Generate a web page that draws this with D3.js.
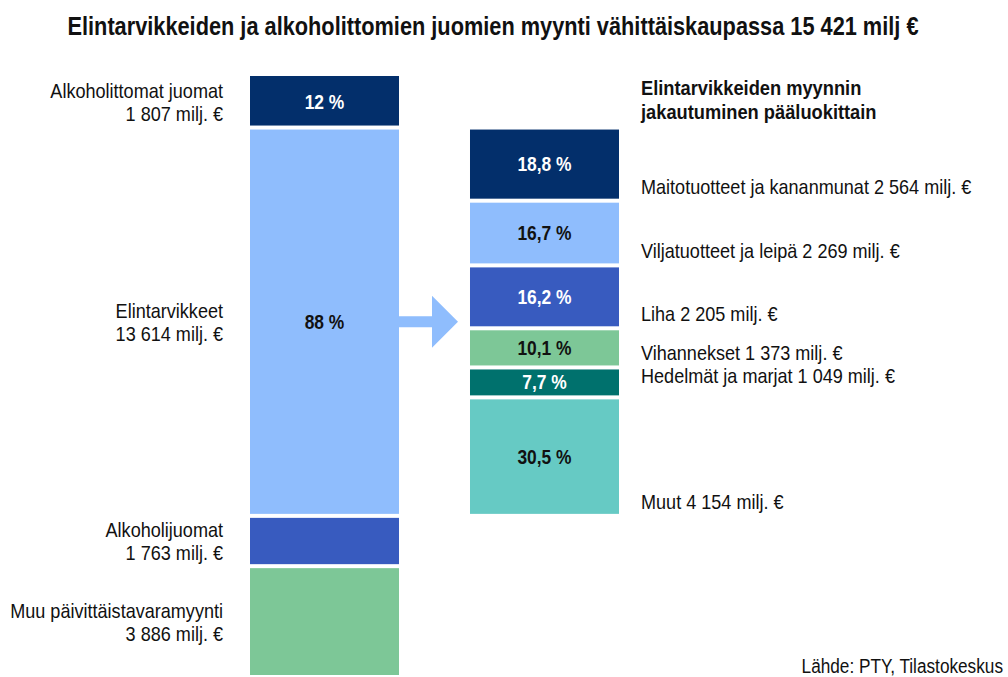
<!DOCTYPE html>
<html lang="fi">
<head>
  <meta charset="utf-8">
  <title>Elintarvikkeiden ja alkoholittomien juomien myynti</title>
  <script src="https://d3js.org/d3.v7.min.js"></script>
  <style>
    body { margin: 0; background: #fff; }
    svg text { font-family: "Liberation Sans", Arial, sans-serif; fill: #111; }
    .bold { font-weight: bold; }
  </style>
</head>
<body>
  <div id="chart"></div>

  <script>
    // data
    const mainCategories = ["Alkoholittomat juomat", "Elintarvikkeet", "Alkoholijuomat", "Muu päivittäistavaramyynti"];
    const mainValues = [1807, 13614, 1763, 3886];
    const mainShares = ["12 %", "88 %", "", ""];

    const foodCategories = ["Maitotuotteet ja kananmunat", "Viljatuotteet ja leipä", "Liha", "Vihannekset", "Hedelmät ja marjat", "Muut"];
    const foodValues = [2564, 2269, 2205, 1373, 1049, 4154];
    const foodShares = ["18,8 %", "16,7 %", "16,2 %", "10,1 %", "7,7 %", "30,5 %"];

    const mainColors = ["#032f6b", "#8fbdfd", "#385bbf", "#7dc797"];
    const foodColors = ["#032f6b", "#8fbdfd", "#385bbf", "#7dc797", "#00716d", "#66cac4"];
    const darkFills = ["#032f6b", "#385bbf", "#00716d"];

    const fi = d3.formatLocale({decimal: ",", thousands: " ", grouping: [3], currency: ["", " €"]});
    const fmt = fi.format(",d");

    const width = 1008, height = 677;
    const gap = 4;

    const svg = d3.select("#chart").append("svg")
      .attr("width", width)
      .attr("height", height);

    // title
    svg.append("text")
      .attr("class", "bold")
      .attr("x", 493)
      .attr("y", 35)
      .attr("text-anchor", "middle")
      .style("font-size", "25px")
      .text("Elintarvikkeiden ja alkoholittomien juomien myynti vähittäiskaupassa " + fmt(d3.sum(mainValues.slice(0, 2))) + " milj €");

    // scales
    const total = d3.sum(mainValues);
    const y = d3.scaleLinear().domain([0, total]).range([76, 677]);
    const x = d3.scaleBand().domain(["main", "food"]).range([250, 619]).paddingInner(0.3227).paddingOuter(0);
    const bw = x.bandwidth();

    // stacked starts
    let acc = 0;
    const mainData = mainValues.map((v, i) => {
      const d = {name: mainCategories[i], value: v, share: mainShares[i], color: mainColors[i], y0: acc, y1: acc + v};
      acc += v;
      return d;
    });
    acc = mainData[1].y0; // food breakdown lies on the Elintarvikkeet segment
    const foodData = foodValues.map((v, i) => {
      const d = {name: foodCategories[i], value: v, share: foodShares[i], color: foodColors[i], y0: acc, y1: acc + v};
      acc += v;
      return d;
    });

    // main bar
    const mainG = svg.append("g");
    mainG.selectAll("rect")
      .data(mainData)
      .enter()
      .append("rect")
      .attr("x", x("main"))
      .attr("width", bw)
      .attr("y", d => y(d.y0) + (d.y0 > 0 ? gap / 2 : 0))
      .attr("height", d => y(d.y1) - y(d.y0) - (d.y0 > 0 ? gap : gap / 2))
      .style("fill", d => d.color);

    mainG.selectAll(".share")
      .data(mainData.filter(d => d.share))
      .enter()
      .append("text")
      .attr("class", "bold")
      .attr("x", x("main") + bw / 2)
      .attr("y", d => (y(d.y0) + y(d.y1)) / 2 + 7)
      .attr("text-anchor", "middle")
      .style("font-size", "20px")
      .style("fill", d => darkFills.includes(d.color) ? "#fff" : "#111")
      .text(d => d.share);

    // left labels, two lines
    const leftLab = mainG.selectAll(".lab")
      .data(mainData)
      .enter()
      .append("text")
      .attr("text-anchor", "end")
      .style("font-size", "21px")
      .attr("transform", d => "translate(223," + ((y(d.y0) + y(d.y1)) / 2) + ")");
    leftLab.append("tspan").attr("x", 0).attr("y", -4).text(d => d.name);
    leftLab.append("tspan").attr("x", 0).attr("y", 19).text(d => fmt(d.value) + " milj. €");

    // arrow
    const e = mainData[1];
    const cy = (y(e.y0) + y(e.y1)) / 2;
    const ax0 = x("main") + bw, ax2 = x("food") - 12, ax1 = ax2 - 26;
    svg.append("path")
      .attr("d", d3.line()([[ax0, cy - 5.5], [ax1, cy - 5.5], [ax1, cy - 26], [ax2, cy], [ax1, cy + 26], [ax1, cy + 5.5], [ax0, cy + 5.5]]) + "Z")
      .style("fill", mainColors[1]);

    // food breakdown bar
    const foodG = svg.append("g");
    foodG.selectAll("rect")
      .data(foodData)
      .enter()
      .append("rect")
      .attr("x", x("food"))
      .attr("width", bw)
      .attr("y", d => y(d.y0) + gap / 2)
      .attr("height", d => y(d.y1) - y(d.y0) - gap)
      .style("fill", d => d.color);

    foodG.selectAll(".share")
      .data(foodData)
      .enter()
      .append("text")
      .attr("class", "bold")
      .attr("x", x("food") + bw / 2)
      .attr("y", d => (y(d.y0) + y(d.y1)) / 2 + 7)
      .attr("text-anchor", "middle")
      .style("font-size", "20px")
      .style("fill", d => darkFills.includes(d.color) ? "#fff" : "#111")
      .text(d => d.share);

    // category labels: near the segment bottom, centred on thin segments
    foodG.selectAll(".lab")
      .data(foodData)
      .enter()
      .append("text")
      .attr("x", 641)
      .attr("y", d => (y(d.y1) - y(d.y0) < 32) ? (y(d.y0) + y(d.y1)) / 2 + 1 : y(d.y1) - 7)
      .style("font-size", "21px")
      .text(d => d.name + " " + fmt(d.value) + " milj. €");

    // header of the breakdown
    const head = svg.append("text")
      .attr("class", "bold")
      .style("font-size", "21px");
    head.append("tspan").attr("x", 641).attr("y", 95).text("Elintarvikkeiden myynnin");
    head.append("tspan").attr("x", 641).attr("y", 119).text("jakautuminen pääluokittain");

    // source
    svg.append("text")
      .attr("x", 1003)
      .attr("y", 673)
      .attr("text-anchor", "end")
      .style("font-size", "20px")
      .text("Lähde: PTY, Tilastokeskus");

    // the original face is a condensed one, narrow the glyphs to match
    svg.selectAll("text").each(function() {
      const t = d3.select(this);
      const k = t.classed("bold") ? 0.87 : 0.86;
      const parts = t.selectAll("tspan").empty() ? t : t.selectAll("tspan");
      parts.each(function() {
        const len = this.getComputedTextLength();
        d3.select(this).attr("textLength", len * k).attr("lengthAdjust", "spacingAndGlyphs");
      });
    });
  </script>
</body>
</html>
